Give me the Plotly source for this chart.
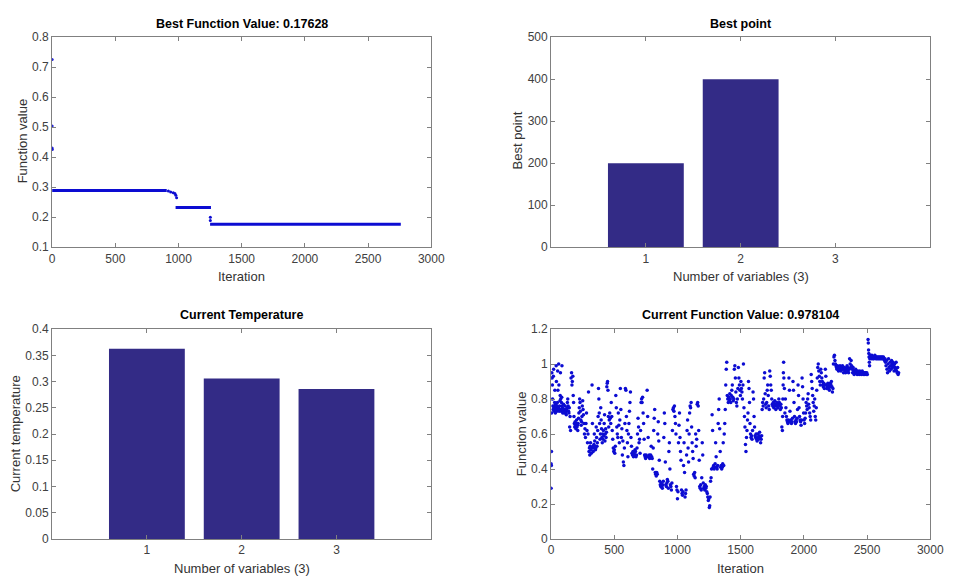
import plotly.graph_objects as go

# ---------------- data ----------------
# Best function value (plateaus of the best-so-far curve)
best_seg_start = [0, 977, 1250]
best_seg_end = [907, 1257, 2759]
best_seg_val = [0.289, 0.2325, 0.1763]
# isolated best-value points
best_pts_x = [0, 0, 0, 1, 920, 938, 959, 972, 979, 985, 1252, 1252]
best_pts_y = [0.726, 0.504, 0.431, 0.426, 0.287, 0.284, 0.281, 0.279, 0.273, 0.265, 0.200, 0.189]

# Best point (bar chart)
var_labels = [1, 2, 3]
best_point = [200, 400, 0]

# Current temperature (bar chart)
cur_temp = [0.3625, 0.3057, 0.286]

# Current function value (scatter)
cur_pts = [
    (0,0.29),(0,0.43),(2,0.42),(3,0.50),(4,0.72),(6,0.95),(8,0.92),(10,0.88),(12,0.80),(14,0.76),
    (16,0.74),(18,0.93),(20,0.97),(22,0.75),(24,0.73),(26,0.76),(28,0.78),(30,0.85),(32,0.74),(34,0.72),
    (36,0.77),(38,0.75),(40,0.99),(42,0.90),(44,0.74),(46,0.73),(48,0.76),(50,0.78),(52,0.96),(54,0.85),
    (56,0.74),(58,0.75),(60,1.00),(62,0.88),(64,0.73),(66,0.74),(68,0.76),(70,0.79),(72,0.82),(74,0.95),
    (76,0.80),(78,0.74),(80,0.73),(82,0.78),(84,0.81),(86,0.99),(88,0.76),(90,0.75),(92,0.72),(95,0.74),(98,0.77),
    (102,0.73),(105,0.72),(108,0.74),(111,0.76),(114,0.73),(117,0.72),(120,0.71),(123,0.74),(126,0.75),(129,0.78),
    (132,0.80),(135,0.76),(138,0.73),(141,0.72),(144,0.75),(147,0.64),(150,0.70),(154,0.62),(158,0.92),(162,0.95),
    (165,0.88),(168,0.90),
    (172,0.93),(175,0.82),(178,0.78),(181,0.70),(184,0.66),(187,0.64),(190,0.67),(193,0.65),(196,0.63),(199,0.66),
    (202,0.68),(205,0.64),(208,0.65),(211,0.62),(214,0.66),(217,0.69),(220,0.72),(223,0.75),(226,0.80),(229,0.78),
    (232,0.73),(235,0.68),(238,0.65),(241,0.67),(244,0.70),(247,0.76),(250,0.79),(253,0.74),(256,0.71),
    (260,0.66),(264,0.60),(268,0.63),(272,0.58),(276,0.66),(280,0.72),(284,0.62),(288,0.55),(292,0.60),(296,0.84),
    (300,0.50),(303,0.52),(306,0.48),(309,0.53),(312,0.55),(315,0.51),(318,0.49),(321,0.52),(324,0.88),(327,0.66),
    (330,0.53),(333,0.50),(336,0.52),(339,0.54),(342,0.60),(345,0.56),(348,0.53),(351,0.51),(354,0.52),(357,0.64),
    (360,0.58),(363,0.53),(366,0.55),(369,0.62),(372,0.70),(375,0.86),(378,0.80),(381,0.72),(384,0.66),(387,0.57),
    (390,0.60),(393,0.75),(396,0.68),(399,0.63),(402,0.58),(405,0.55),(408,0.60),(411,0.57),(414,0.62),(417,0.59),
    (420,0.66),(423,0.71),(426,0.56),(429,0.60),(432,0.63),(435,0.58),(438,0.61),(441,0.87),(444,0.89),(447,0.90),
    (450,0.85),(453,0.70),(456,0.64),
    (460,0.68),(464,0.72),(468,0.69),(472,0.66),(476,0.78),(480,0.70),(484,0.62),(488,0.57),(492,0.52),(496,0.50),
    (500,0.51),(504,0.49),(508,0.53),(512,0.82),(516,0.75),(520,0.64),(524,0.60),(528,0.58),(532,0.72),(536,0.65),
    (540,0.55),(544,0.68),(548,0.86),(552,0.74),(556,0.58),
    (560,0.63),(564,0.48),(568,0.56),(572,0.44),(576,0.42),(580,0.52),(584,0.66),(588,0.86),(592,0.85),(596,0.70),
    (600,0.62),(604,0.55),(608,0.47),(612,0.60),(616,0.66),(620,0.73),
    (624,0.78),(628,0.84),(632,0.58),(636,0.53),(640,0.49),(644,0.48),(648,0.50),(652,0.47),(656,0.49),(660,0.48),
    (664,0.51),(668,0.50),(672,0.47),(676,0.48),(680,0.52),(684,0.60),(688,0.69),(692,0.64),(696,0.55),(700,0.57),
    (704,0.49),(708,0.62),(712,0.78),
    (716,0.80),(720,0.78),(724,0.81),(728,0.72),(732,0.66),(736,0.57),(740,0.48),(744,0.47),(748,0.46),(752,0.48),
    (756,0.47),(760,0.85),(764,0.70),(768,0.58),(772,0.47),(776,0.48),(780,0.46),(784,0.47),(788,0.48),(792,0.53),
    (796,0.47),(800,0.46),(804,0.40),(808,0.52),(812,0.62),
    (816,0.69),(820,0.74),(824,0.38),(828,0.37),(832,0.36),(836,0.38),(840,0.37),(844,0.60),(848,0.67),(852,0.56),
    (856,0.45),(860,0.33),(864,0.31),(868,0.30),
    (872,0.32),(876,0.30),(880,0.29),(884,0.31),(888,0.33),(892,0.58),(896,0.72),(900,0.66),(904,0.44),(908,0.31),
    (912,0.30),(916,0.32),(920,0.34),(924,0.33),(928,0.29),(932,0.50),(936,0.55),(940,0.40),(944,0.31),(948,0.30),
    (952,0.28),(956,0.32),(960,0.62),
    (964,0.74),(968,0.75),(972,0.73),(976,0.76),(980,0.70),(984,0.66),(988,0.60),(992,0.30),(996,0.28),(1000,0.23),
    (1004,0.27),(1008,0.55),(1012,0.65),(1016,0.72),(1020,0.58),(1024,0.50),(1028,0.45),(1032,0.28),(1036,0.26),(1040,0.25),
    (1044,0.27),(1048,0.42),(1052,0.55),(1056,0.38),(1060,0.24),(1064,0.26),(1068,0.28),(1072,0.48),(1076,0.62),(1080,0.68),
    (1084,0.52),(1088,0.44),(1092,0.60),(1096,0.72),(1100,0.76),(1104,0.75),(1108,0.78),(1112,0.64),(1116,0.55),(1120,0.50),
    (1124,0.46),(1128,0.37),(1132,0.36),(1136,0.38),(1140,0.35),(1144,0.60),(1148,0.53),(1152,0.57),(1156,0.77),(1160,0.78),
    (1164,0.76),(1168,0.62),(1172,0.45),(1176,0.30),(1180,0.29),(1184,0.31),(1188,0.28),(1192,0.35),(1196,0.55),(1200,0.48),
    (1204,0.32),(1208,0.29),(1212,0.30),(1216,0.28),(1220,0.31),(1224,0.29),(1228,0.30),(1232,0.27),(1236,0.26),(1240,0.24),
    (1244,0.22),(1248,0.23),(1252,0.18),(1255,0.19),(1258,0.24),(1262,0.33),(1266,0.35),(1270,0.40),(1274,0.71),(1278,0.62),
    (1282,0.41),(1286,0.42),(1290,0.40),(1294,0.41),(1298,0.43),(1302,0.55),(1306,0.47),(1310,0.41),(1314,0.40),(1318,0.42),
    (1322,0.66),(1326,0.74),(1330,0.80),(1334,0.63),(1338,0.50),(1342,0.41),(1346,0.42),(1350,0.40),(1354,0.41),(1358,0.43),
    (1362,0.55),(1366,0.42),(1370,0.60),
    (1374,0.66),(1378,0.74),(1382,0.88),(1386,0.97),(1390,1.01),(1394,0.82),(1398,0.80),(1402,0.78),(1406,0.81),(1410,0.79),
    (1414,0.83),(1418,0.80),(1422,0.78),(1426,0.82),(1430,0.85),(1434,0.88),(1438,0.81),(1442,0.79),(1446,0.80),(1450,0.97),
    (1454,0.99),(1458,0.92),(1462,0.84),(1466,0.78),
    (1470,0.76),(1474,0.80),(1478,0.86),(1482,0.98),(1486,0.92),(1490,0.88),(1494,0.85),(1498,0.82),(1502,0.90),(1506,0.86),
    (1510,0.84),(1514,0.80),(1518,0.88),(1522,1.00),(1526,0.75),(1530,0.70),(1534,0.64),(1538,0.54),(1542,0.50),(1546,0.58),
    (1550,0.62),(1554,0.68),(1558,0.72),(1562,0.90),(1566,0.86),(1570,0.78),(1574,0.66),(1578,0.60),(1582,0.58),(1586,0.59),
    (1590,0.57),(1594,0.62),(1598,0.84),(1602,0.80),(1606,0.70),(1610,0.64),(1614,0.59),(1618,0.58),(1622,0.60),(1626,0.57),
    (1630,0.56),(1634,0.60),(1638,0.58),(1642,0.57),(1646,0.59),(1650,0.61),(1654,0.58),(1658,0.55),(1662,0.57),(1666,0.59),
    (1670,0.74),(1674,0.78),(1678,0.76),(1682,0.80),(1686,0.92),(1690,0.95),(1694,0.83),(1698,0.77),(1702,0.75),(1706,0.78),
    (1710,0.85),(1714,0.88),(1718,0.82),(1722,0.76),(1726,0.74),
    (1730,0.96),(1734,0.93),(1738,0.88),(1742,0.85),(1746,0.80),(1750,0.77),(1754,0.76),(1758,0.78),(1762,0.75),(1766,0.77),
    (1770,0.79),(1774,0.76),(1778,0.74),(1782,0.77),(1786,0.78),(1790,0.76),(1794,0.75),(1798,0.77),(1802,0.80),(1806,0.78),
    (1810,0.76),(1814,0.74),(1818,0.77),(1822,0.75),
    (1826,0.64),(1830,0.62),(1832,0.70),(1834,0.80),(1836,0.88),(1838,0.95),(1840,1.01),(1842,0.92),(1846,0.86),
    (1850,0.72),(1854,0.80),(1858,0.75),(1862,0.70),(1866,0.68),(1870,0.67),(1874,0.66),(1878,0.68),(1882,0.92),(1886,0.85),
    (1890,0.73),(1894,0.67),(1898,0.68),(1902,0.66),(1906,0.67),(1910,0.69),(1914,0.90),(1918,0.85),(1922,0.78),(1926,0.70),
    (1930,0.67),(1934,0.66),(1938,0.68),(1942,0.67),(1946,0.69),(1950,0.74),(1954,0.88),(1958,0.82),(1962,0.75),(1966,0.70),
    (1970,0.68),(1974,0.67),(1978,0.65),(1982,0.68),
    (1986,0.92),(1990,0.87),(1994,0.80),(1998,0.72),(2002,0.68),(2006,0.66),(2010,0.69),(2014,0.72),(2018,0.78),(2022,0.76),
    (2026,0.74),(2030,0.80),(2034,0.83),(2038,0.77),(2042,0.75),(2046,0.72),(2050,0.70),(2054,0.68),(2058,0.94),(2062,0.90),
    (2066,0.86),(2070,0.82),(2074,0.78),(2078,0.73),(2082,0.76),(2086,0.80),(2090,0.70),(2094,0.68),(2098,0.75),
    (2102,0.85),(2106,0.92),(2110,0.98),(2114,1.00),(2118,0.96),(2122,0.93),(2126,0.90),(2130,0.88),(2134,0.97),(2138,0.95),
    (2142,0.92),
    (2146,0.90),(2150,0.88),(2154,0.87),(2158,0.89),(2162,0.86),(2166,0.88),(2170,0.97),(2174,0.93),(2178,0.88),(2182,0.86),
    (2186,0.87),(2190,0.89),(2194,0.88),(2198,0.86),(2202,0.85),(2206,0.87),(2210,0.89),(2214,0.88),(2218,0.90),(2222,0.87),
    (2226,0.84),(2230,0.86),
    (2234,1.00),(2238,1.04),(2242,1.05),(2246,1.02),(2250,1.00),(2254,0.99),
    (2258,0.98),(2262,0.97),(2266,0.99),(2270,0.98),(2274,0.96),(2278,0.98),(2282,0.97),(2286,0.99),(2290,0.98),(2294,0.96),
    (2298,0.98),(2302,0.97),(2306,0.99),(2310,0.97),(2314,0.95),(2318,0.97),(2322,0.98),(2326,0.96),(2330,0.95),(2334,0.97),
    (2338,0.96),(2342,0.99),(2346,0.98),(2350,0.96),(2354,0.95),(2358,0.97),
    (2362,1.03),(2366,1.00),(2370,0.98),(2374,1.02),(2378,0.99),(2382,0.97),(2386,0.95),(2390,0.98),(2394,0.96),(2398,0.94),
    (2402,0.96),(2406,0.95),(2410,0.97),(2414,0.96),(2418,0.95),(2422,0.94),(2426,0.96),(2430,0.95),(2434,0.95),(2438,0.94),
    (2442,0.96),(2446,0.95),(2450,0.95),(2454,0.94),(2458,0.95),(2462,0.96),(2466,0.95),(2470,0.94),(2474,0.95),(2478,0.95),
    (2482,0.94),(2486,0.95),(2490,0.95),(2494,0.94),(2498,0.95),(2502,0.94),
    (2508,1.14),(2510,1.12),(2512,1.08),(2514,1.06),(2516,1.04),(2518,1.01),(2520,0.99),(2522,1.03),(2526,1.05),
    (2530,1.04),(2534,1.03),(2538,1.05),(2542,1.04),(2546,1.03),(2550,1.04),(2554,1.03),(2558,1.04),(2562,1.05),(2566,1.04),
    (2570,1.03),(2574,1.04),(2578,1.03),(2582,1.04),(2586,1.03),(2590,1.04),(2594,1.03),(2598,1.04),(2602,1.03),(2606,1.04),
    (2610,1.03),(2614,1.04),(2618,1.03),(2622,1.04),(2626,1.03),(2630,1.04),(2634,1.03),(2638,1.02),(2642,1.03),
    (2646,1.01),(2650,0.99),(2654,1.02),(2658,0.97),(2662,0.95),(2666,1.00),(2670,1.03),(2674,0.98),(2678,0.96),(2682,1.01),
    (2686,0.99),(2690,0.97),(2694,1.02),(2698,1.00),(2702,0.98),(2706,1.01),(2710,0.99),(2714,0.96),(2718,1.00),(2722,0.98),
    (2726,0.97),(2730,1.01),(2734,0.96),(2738,0.95),(2742,0.98),(2746,0.94),(2750,0.95),
]
cur_x = [p[0] for p in cur_pts]
cur_y = [p[1] for p in cur_pts]

iter_ticks = [0, 500, 1000, 1500, 2000, 2500, 3000]
best_ticks = [0.1, 0.2, 0.3, 0.4, 0.5, 0.6, 0.7, 0.8]
bp_ticks = [0, 100, 200, 300, 400, 500]
temp_ticks = [0, 0.05, 0.1, 0.15, 0.2, 0.25, 0.3, 0.35, 0.4]
temp_labels = ["0", "0.05", "0.1", "0.15", "0.2", "0.25", "0.3", "0.35", "0.4"]
cur_ticks = [0, 0.2, 0.4, 0.6, 0.8, 1.0, 1.2]
cur_labels = ["0", "0.2", "0.4", "0.6", "0.8", "1", "1.2"]

# ---------------- style ----------------
W, H = 957, 586
FONT = "Liberation Sans, Arial, Helvetica, sans-serif"
DOT = "#0c0cd2"
BAR = "#332b86"
AX = "#808080"

fig = go.Figure()

# top-left: best function value
bx, by = [], []
for s, e, v in zip(best_seg_start, best_seg_end, best_seg_val):
    bx += [s, e, None]
    by += [v, v, None]
fig.add_trace(go.Scatter(x=bx, y=by, mode="lines", line=dict(color=DOT, width=3),
                         xaxis="x", yaxis="y", showlegend=False, hoverinfo="skip"))
fig.add_trace(go.Scatter(x=best_pts_x, y=best_pts_y, mode="markers",
                         marker=dict(color=DOT, size=3), xaxis="x", yaxis="y", showlegend=False))

# top-right: best point
fig.add_trace(go.Bar(x=var_labels, y=best_point, width=0.8, marker=dict(color=BAR, line=dict(width=0)),
                     xaxis="x2", yaxis="y2", showlegend=False))

# bottom-left: current temperature
fig.add_trace(go.Bar(x=var_labels, y=cur_temp, width=0.8, marker=dict(color=BAR, line=dict(width=0)),
                     xaxis="x3", yaxis="y3", showlegend=False))

# bottom-right: current function value
fig.add_trace(go.Scatter(x=cur_x, y=cur_y, mode="markers",
                         marker=dict(color=DOT, size=3.5, line=dict(width=0)),
                         xaxis="x4", yaxis="y4", showlegend=False))

def px_x(p):
    return p / W

def px_y(p):
    return 1 - p / H

xdomL = [px_x(50), px_x(436)]
xdomR = [px_x(558), px_x(944)]
ydomT = [px_y(246), px_y(31)]
ydomB = [px_y(545), px_y(330)]

def ax(domain, anchor, rng, tickvals, ticktext=None):
    d = dict(domain=domain, anchor=anchor, range=rng, tickvals=tickvals,
             showline=True, linecolor=AX, linewidth=1, mirror="ticks",
             ticks="inside", ticklen=4, tickcolor=AX, tickwidth=1,
             showgrid=False, zeroline=False, fixedrange=True,
             tickfont=dict(family=FONT, size=12, color="#404040"))
    if ticktext is not None:
        d["ticktext"] = ticktext
    return d

fig.update_layout(
    width=W, height=H,
    margin=dict(l=0, r=0, t=0, b=0),
    paper_bgcolor="white", plot_bgcolor="white",
    font=dict(family=FONT),
    bargap=0.2,
    xaxis=ax(xdomL, "y", [0, 3000], iter_ticks),
    yaxis=ax(ydomT, "x", [0.1, 0.8], best_ticks, [str(v) for v in best_ticks]),
    xaxis2=ax(xdomR, "y2", [0, 4], var_labels),
    yaxis2=ax(ydomT, "x2", [0, 500], bp_ticks),
    xaxis3=ax(xdomL, "y3", [0, 4], var_labels),
    yaxis3=ax(ydomB, "x3", [0, 0.4], temp_ticks, temp_labels),
    xaxis4=ax(xdomR, "y4", [0, 3000], iter_ticks),
    yaxis4=ax(ydomB, "x4", [0, 1.2], cur_ticks, cur_labels),
)

def note(text, x, y, size=13, bold=False, angle=0, color="#333333"):
    fig.add_annotation(text=("<b>%s</b>" % text) if bold else text,
                       x=px_x(x), y=px_y(y), xref="paper", yref="paper",
                       xanchor="center", yanchor="middle", showarrow=False,
                       textangle=angle, font=dict(family=FONT, size=size, color=color))

# titles
note("Best Function Value: 0.17628", 243, 17, size=12.5, bold=True, color="black")
note("Best point", 751, 17, size=12.5, bold=True, color="black")
note("Current Temperature", 243, 316, size=12.5, bold=True, color="black")
note("Current Function Value: 0.978104", 751, 316, size=12.5, bold=True, color="black")
# x axis titles
note("Iteration", 243, 276)
note("Number of variables (3)", 751, 276)
note("Number of variables (3)", 243, 575)
note("Iteration", 751, 575)
# y axis titles
note("Function value", 20, 137, angle=-90)
note("Best point", 524, 137, angle=-90)
note("Current temperature", 13, 437, angle=-90)
note("Function value", 528, 437, angle=-90)

fig.write_html("out.html")
